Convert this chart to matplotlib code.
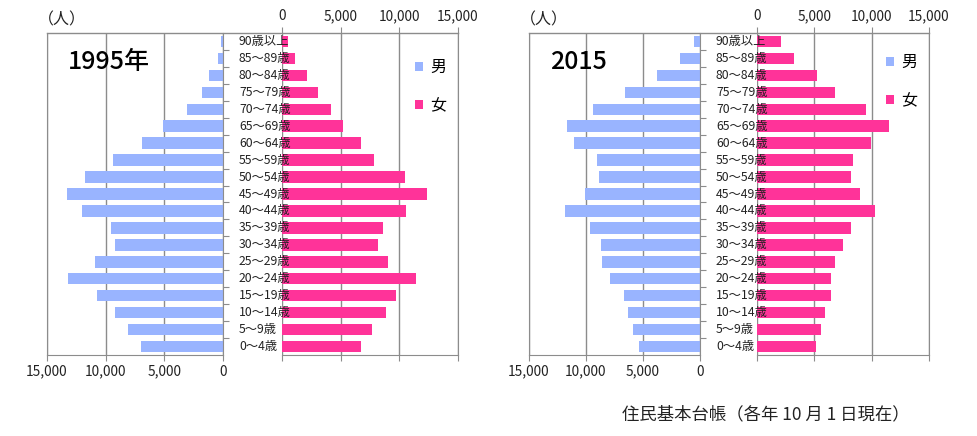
import matplotlib.pyplot as plt
from matplotlib.lines import Line2D
import numpy as np

plt.rcParams['font.family'] = ['Noto Sans CJK JP', 'DejaVu Sans']

# age groups, bottom to top
ages = ['0～4歳', '5～9歳', '10～14歳', '15～19歳', '20～24歳', '25～29歳',
        '30～34歳', '35～39歳', '40～44歳', '45～49歳', '50～54歳', '55～59歳',
        '60～64歳', '65～69歳', '70～74歳', '75～79歳', '80～84歳', '85～89歳',
        '90歳以上']

# 1995
male_1995 = [7020, 8120, 9230, 10770, 13210, 10880, 9230, 9520, 12040, 13320,
             11790, 9350, 6930, 5080, 3100, 1820, 1160, 450, 140]
female_1995 = [6700, 7640, 8860, 9720, 11390, 9010, 8150, 8610, 10570, 12360,
               10450, 7840, 6700, 5230, 4150, 3040, 2100, 1080, 480]

# 2015
male_2015 = [5350, 5910, 6290, 6700, 7920, 8630, 8710, 9620, 11840, 10090,
             8890, 9040, 11020, 11700, 9360, 6610, 3740, 1720, 560]
female_2015 = [5170, 5570, 5920, 6420, 6480, 6770, 7530, 8230, 10300, 8960,
               8230, 8350, 9980, 11470, 9540, 6830, 5250, 3240, 2130]

ticks = [0, 5000, 10000, 15000]
tick_labels = ['0', '5,000', '10,000', '15,000']

blue = '#99B4FF'
pink = '#FF3399'
gray = '#8C8C8C'

W, H = 978, 436
fig = plt.figure(figsize=(W / 100, H / 100), dpi=100)


def fig_rect(x0, x1, y0, y1):
    return [x0 / W, 1 - y1 / H, (x1 - x0) / W, (y1 - y0) / H]


def draw_panel(mx0, mx1, fx0, fx1, male, female, year, leg_top):
    y = np.arange(len(ages))
    ax_m = fig.add_axes(fig_rect(mx0, mx1, 33, 355))
    ax_f = fig.add_axes(fig_rect(fx0, fx1, 33, 355))

    # male side (reversed x)
    bm = ax_m.barh(y, male, height=0.68, color=blue, label='男', zorder=2)
    ax_m.set_xlim(15000, 0)
    ax_m.set_ylim(-0.5, len(ages) - 0.5)
    ax_m.set_xticks(ticks)
    ax_m.set_xticklabels(tick_labels)
    ax_m.grid(axis='x', color=gray, lw=1, zorder=0)
    ax_m.yaxis.tick_right()
    ax_m.set_yticks(np.arange(len(ages) - 1) + 0.5)
    ax_m.set_yticklabels([])
    ax_m.tick_params(axis='y', direction='out', length=4, color=gray)
    ax_m.tick_params(axis='x', direction='out', length=4, color=gray,
                     labelsize=9.8, pad=3, labelcolor='#222222')
    for s in ['left', 'bottom', 'right']:
        ax_m.spines[s].set_color(gray)
    ax_m.spines['top'].set_visible(False)

    # female side
    bf = ax_f.barh(y, female, height=0.68, color=pink, label='女', zorder=2)
    ax_f.set_xlim(0, 15000)
    ax_f.set_ylim(-0.5, len(ages) - 0.5)
    ax_f.set_xticks(ticks)
    ax_f.set_xticklabels(tick_labels)
    ax_f.grid(axis='x', color=gray, lw=1, zorder=0)
    ax_f.set_yticks([])
    ax_f.tick_params(axis='x', which='both', direction='out', length=4,
                     color=gray, top=True, bottom=True, labeltop=True,
                     labelbottom=False, labelsize=9.8, pad=3,
                     labelcolor='#222222')
    for s in ['left', 'bottom', 'right']:
        ax_f.spines[s].set_color(gray)
    ax_f.spines['left'].set_visible(False)
    ax_f.spines['top'].set_visible(False)

    # top line across the whole panel
    fig.add_artist(Line2D([mx0 / W, fx1 / W], [1 - 33 / H, 1 - 33 / H],
                          color=gray, lw=1))

    # age labels in the gap, drawn over the female bars
    lx = -(fx0 - mx1 - 16) / (fx1 - fx0)
    for i, a in enumerate(ages):
        ax_f.text(lx, i, a, transform=ax_f.get_yaxis_transform(),
                  ha='left', va='center', fontsize=8.8, color='#222222',
                  zorder=5, clip_on=False)

    fig.text((mx0 - 9) / W, 1 - 20 / H, '（人）', ha='left', va='center',
             fontsize=11.5, color='#222222')
    fig.text((mx0 + 21) / W, 1 - 62 / H, year, ha='left', va='center',
             fontsize=18, color='black', fontweight='medium')

    fig.legend(handles=[bm, bf], loc='upper left',
               bbox_to_anchor=((fx1 - 43) / W, 1 - leg_top / H),
               frameon=False, fontsize=11.5, handlelength=0.5, handleheight=0.5,
               handletextpad=0.45, labelspacing=1.35, borderpad=0,
               borderaxespad=0)


draw_panel(47, 223, 282, 458, male_1995, female_1995, '1995年', 59)
draw_panel(529, 700, 757, 929, male_2015, female_2015, '2015', 54)

fig.text(622 / W, 1 - 414 / H, '住民基本台帳（各年 10 月 1 日現在）',
         ha='left', va='center', fontsize=12.5, color='#222222')

fig.savefig('out.png', dpi=100)
